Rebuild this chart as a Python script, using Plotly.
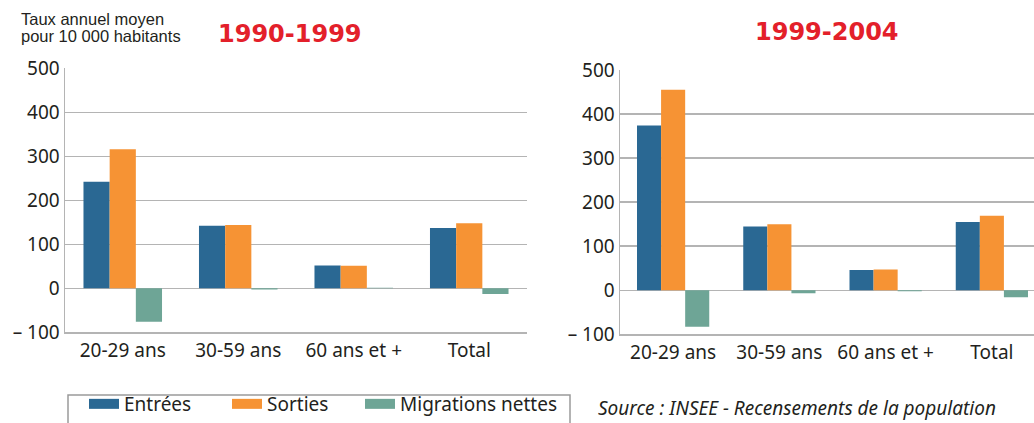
import plotly.graph_objects as go

# ---- data ----
categories = ["20-29 ans", "30-59 ans", "60 ans et +", "Total"]
series_names = ["Entrées", "Sorties", "Migrations nettes"]
series_colors = ["#2a6893", "#f69334", "#6ea596"]

entrees_1990 = [242, 142, 52, 137]
sorties_1990 = [316, 144, 51, 148]
migr_1990 = [-76, -3, 1, -13]

entrees_1999 = [374, 145, 46, 155]
sorties_1999 = [455, 150, 47, 169]
migr_1999 = [-83, -7, -2, -16]

tick_vals = [-100, 0, 100, 200, 300, 400, 500]
tick_text = ["– 100", "0", "100", "200", "300", "400", "500"]

period_titles = ["1990-1999", "1999-2004"]
unit_lines = ["Taux annuel moyen", "pour 10 000 habitants"]
source_label = "Source : INSEE - Recensements de la population"

W, H = 1034, 423
fig = go.Figure()

panels = [
    ("x", "y", [entrees_1990, sorties_1990, migr_1990]),
    ("x2", "y2", [entrees_1999, sorties_1999, migr_1999]),
]
for xa, ya, vals in panels:
    for name, color, v in zip(series_names, series_colors, vals):
        fig.add_trace(go.Bar(x=categories, y=v, name=name, marker_color=color,
                             marker_line_width=0, xaxis=xa, yaxis=ya,
                             showlegend=False))

# legend entries (wide swatches), one legend per entry so they can be placed
legend_ids = ["legend", "legend2", "legend3"]
legend_x = [84, 227, 360]
for name, color, lid in zip(series_names, series_colors, legend_ids):
    fig.add_trace(go.Scatter(x=[None], y=[None], mode="lines", name=name,
                             line=dict(color=color, width=12), xaxis="x", yaxis="y",
                             legend=lid))

grid = "#b4b4b4"
tickfont = dict(family="Noto Sans", size=19, color="#231f20")
catfont = dict(family="Noto Sans", size=19, color="#231f20")

def yax(domain):
    return dict(domain=domain, range=[-100, 500], tickvals=tick_vals, ticktext=tick_text,
                showgrid=True, gridcolor=grid, gridwidth=1.5, zeroline=True,
                zerolinecolor=grid, zerolinewidth=1.5, showline=True, linecolor=grid,
                linewidth=1.5, ticks="", tickfont=tickfont, fixedrange=True)

def xax(domain, rng, anchor):
    return dict(domain=domain, range=rng, showline=True, linecolor=grid, linewidth=1.5,
                ticks="", tickfont=catfont, anchor=anchor, showgrid=False, fixedrange=True)

def leg(px):
    return dict(orientation="h", x=px / W, y=0, xanchor="left", yanchor="bottom",
                borderwidth=0, bgcolor="rgba(0,0,0,0)",
                font=dict(family="Noto Sans", size=19, color="#231f20"), itemwidth=30)

fig.update_layout(
    width=W, height=H, margin=dict(l=0, r=0, t=0, b=0, autoexpand=False),
    paper_bgcolor="white", plot_bgcolor="white",
    barmode="group", bargap=0.32, bargroupgap=0,
    xaxis=xax([65 / W, 527 / W], [-0.5, 3.5], "y"),
    yaxis=yax([1 - 332.3 / H, 1 - 68.3 / H]),
    xaxis2=xax([620 / W, 1.0], [-0.5, 3.3965], "y2"),
    yaxis2=dict(yax([1 - 334.3 / H, 1 - 70 / H]), anchor="x2"),
    legend=leg(legend_x[0]), legend2=leg(legend_x[1]), legend3=leg(legend_x[2]),
    showlegend=True,
)

# legend frame
fig.add_shape(type="rect", xref="paper", yref="paper", x0=68 / W, x1=570 / W,
              y0=1 - 445 / H, y1=1 - 395 / H, line=dict(color="#9a9a9a", width=1.5),
              fillcolor="rgba(0,0,0,0)", layer="below")

for i, (line, base) in enumerate(zip(unit_lines, [26, 43.3])):
    fig.add_annotation(text=line, xref="paper", yref="paper", x=19 / W, y=1 - (base + 4) / H,
                       xanchor="left", yanchor="bottom", align="left", showarrow=False,
                       font=dict(family="Liberation Sans", size=16.5, color="#231f20"))
for cx, cy, t in [(290, 33.5, period_titles[0]), (827, 32, period_titles[1])]:
    fig.add_annotation(text="<b>" + t + "</b>", xref="paper", yref="paper", x=cx / W,
                       y=1 - cy / H, xanchor="center", yanchor="middle", showarrow=False,
                       font=dict(family="DejaVu Sans", size=24, color="#e3202a"))
fig.add_annotation(text="<i>" + source_label + "</i>", xref="paper", yref="paper",
                   x=596 / W, y=0, xanchor="left", yanchor="bottom",
                   showarrow=False, font=dict(family="Noto Sans", size=19, color="#231f20"))

fig.write_html("out.html", config={"displayModeBar": False, "staticPlot": True},
               post_script="document.body.style.margin='0px';document.body.style.overflow='hidden';")
